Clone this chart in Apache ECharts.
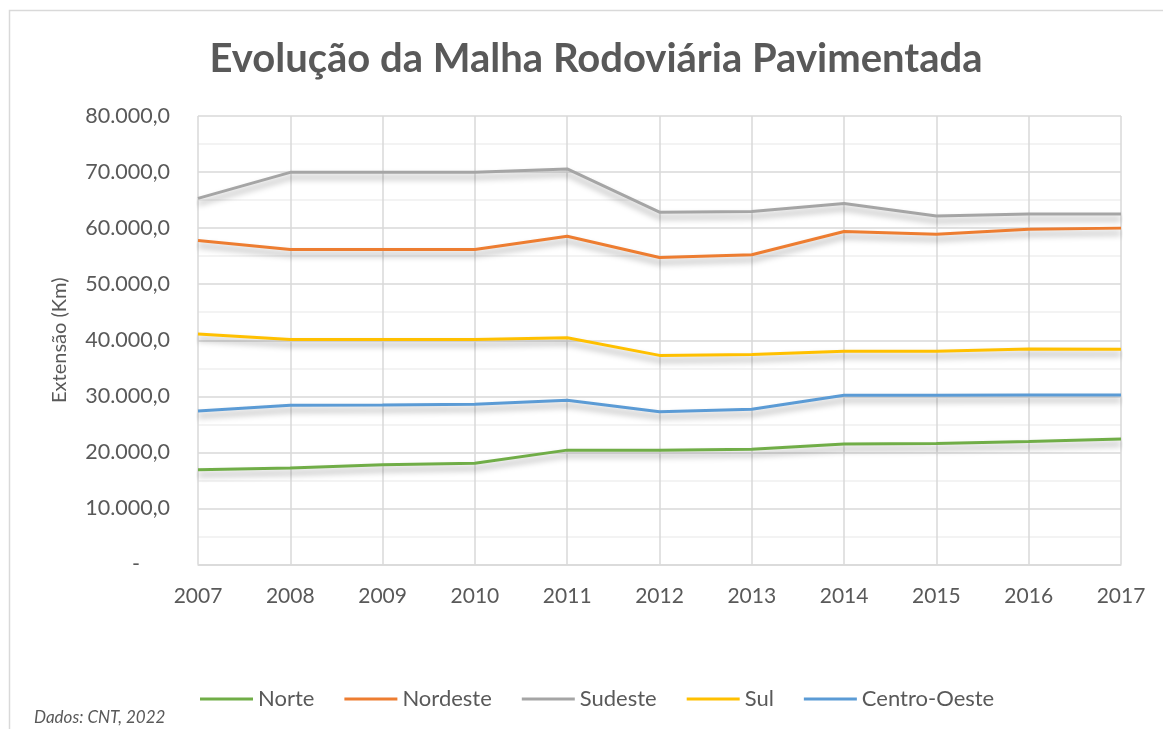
<!DOCTYPE html>
<html>
<head>
<meta charset="utf-8">
<title>Evolução da Malha Rodoviária Pavimentada</title>
<script src="https://cdn.jsdelivr.net/npm/echarts@6/dist/echarts.min.js"></script>
<style>
    html, body { margin: 0; padding: 0; background: #fff; }
    #chart { width: 1163px; height: 729px; }
</style>
</head>
<body>
<div id="chart"></div>
<script>
// dados (km)
var anos = ['2007', '2008', '2009', '2010', '2011', '2012', '2013', '2014', '2015', '2016', '2017'];
var norte = [16900, 17200, 17800, 18050, 20400, 20400, 20550, 21500, 21600, 21950, 22400];
var nordeste = [57800, 56200, 56200, 56200, 58550, 54750, 55250, 59400, 58900, 59800, 60000];
var sudeste = [65300, 69950, 69950, 69950, 70550, 62850, 62950, 64400, 62150, 62500, 62500];
var sul = [41100, 40150, 40150, 40150, 40450, 37300, 37450, 38050, 38050, 38450, 38400];
var centroOeste = [27400, 28400, 28450, 28600, 29300, 27250, 27700, 30200, 30200, 30250, 30250];

var fonte = 'Lato, "Open Sans", sans-serif';
var cinza = '#595959';

function fmtKm(v) {
    if (v === 0) return '{d|-}';
    var s = Math.round(v).toString().replace(/\B(?=(\d{3})+(?!\d))/g, '.');
    return s + ',0';
}

function serie(nome, dados, cor) {
    return {
        name: nome,
        type: 'line',
        data: dados,
        showSymbol: false,
        symbol: 'none',
        lineStyle: {
            color: cor,
            width: 3,
            shadowColor: 'rgba(0,0,0,0.35)',
            shadowBlur: 6,
            shadowOffsetY: 5
        },
        itemStyle: {color: cor},
        emphasis: {disabled: true}
    };
}

var myChart = echarts.init(document.getElementById('chart'));

var option = {
    backgroundColor: '#ffffff',
    animation: false,
    textStyle: {fontFamily: fonte},
    title: {
        text: 'Evolução da Malha Rodoviária Pavimentada',
        left: 591,
        top: 34,
        textAlign: 'center',
        textStyle: {
            color: cinza,
            fontSize: 40,
            fontWeight: 'bold',
            fontFamily: fonte
        }
    },
    graphic: [
        {
            type: 'rect',
            shape: {x: 9.5, y: 10.5, width: 1170, height: 740},
            style: {fill: 'none', stroke: '#d9d9d9', lineWidth: 1.5},
            silent: true
        },
        {
            type: 'text',
            left: 34,
            top: 709,
            style: {
                text: 'Dados: CNT, 2022',
                fill: cinza,
                font: 'italic 17px ' + fonte
            }
        }
    ],
    legend: {
        data: ['Norte', 'Nordeste', 'Sudeste', 'Sul', 'Centro-Oeste'],
        left: 195,
        top: 683,
        icon: 'rect',
        itemWidth: 53,
        itemHeight: 3,
        itemGap: 30,
        textStyle: {color: cinza, fontSize: 22, fontFamily: fonte}
    },
    grid: {
        left: 198,
        right: 42,
        top: 116,
        bottom: 164.5
    },
    xAxis: {
        type: 'category',
        boundaryGap: false,
        data: anos,
        axisTick: {show: false},
        axisLine: {lineStyle: {color: '#d9d9d9', width: 1.5}},
        axisLabel: {color: cinza, fontSize: 21, margin: 21, fontFamily: fonte},
        splitLine: {show: true, lineStyle: {color: '#d9d9d9', width: 1.5}}
    },
    yAxis: {
        type: 'value',
        min: 0,
        max: 80000,
        interval: 10000,
        name: 'Extensão (Km)',
        nameLocation: 'middle',
        nameGap: 128,
        nameRotate: 90,
        nameTextStyle: {color: cinza, fontSize: 20, fontFamily: fonte},
        axisLine: {show: false},
        axisTick: {show: false},
        axisLabel: {
            color: cinza,
            fontSize: 21.5,
            margin: 28,
            fontFamily: fonte,
            formatter: fmtKm,
            rich: {d: {color: cinza, fontSize: 21.5, fontFamily: fonte, padding: [0, 30, 0, 0]}}
        },
        splitLine: {lineStyle: {color: '#d9d9d9', width: 1.5}},
        minorTick: {show: false, splitNumber: 2},
        minorSplitLine: {show: true, lineStyle: {color: '#f0f0f0', width: 1.5}}
    },
    series: [
        serie('Norte', norte, '#70ad47'),
        serie('Nordeste', nordeste, '#ed7d31'),
        serie('Sudeste', sudeste, '#a5a5a5'),
        serie('Sul', sul, '#ffc000'),
        serie('Centro-Oeste', centroOeste, '#5b9bd5')
    ]
};

myChart.setOption(option);
</script>
</body>
</html>
